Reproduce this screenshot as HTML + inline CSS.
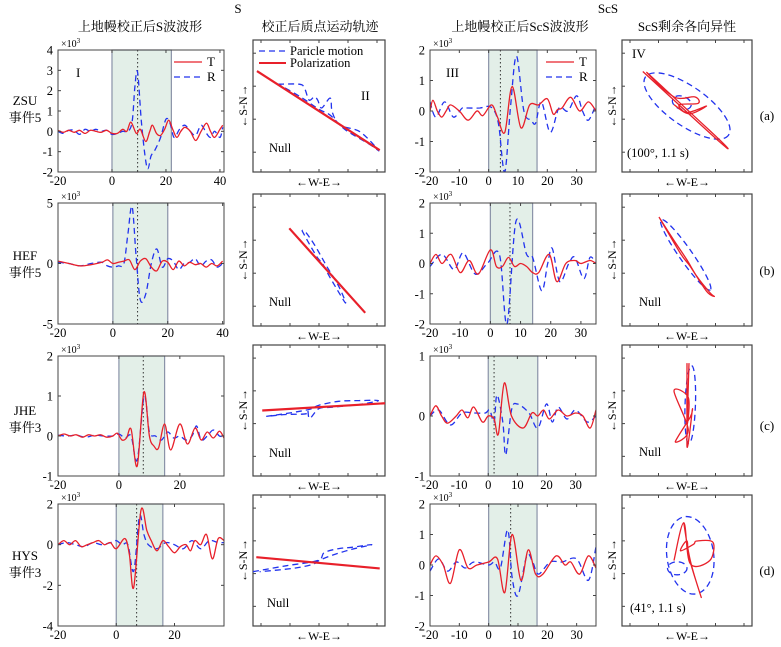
<!DOCTYPE html>
<html><head><meta charset="utf-8">
<style>
html,body{margin:0;padding:0;background:#fff;}
svg{display:block;font-family:"Liberation Serif","Noto Serif CJK SC","Noto Sans CJK SC",serif;}
</style></head>
<body>
<svg id="fig" width="781" height="647" viewBox="0 0 781 647" xmlns="http://www.w3.org/2000/svg">
<text x="238" y="13" font-size="13" text-anchor="middle">S</text>
<text x="608" y="13" font-size="13" text-anchor="middle">ScS</text>
<text x="140" y="31" font-size="13" text-anchor="middle">上地幔校正后S波波形</text>
<text x="320" y="31" font-size="13" text-anchor="middle">校正后质点运动轨迹</text>
<text x="520" y="31" font-size="13" text-anchor="middle">上地幔校正后ScS波波形</text>
<text x="687" y="31" font-size="13" text-anchor="middle">ScS剩余各向异性</text>
</svg>
<script>
// ---- waveform data (time s, amplitude ×10^3) ----
const zsuS_Tt=[-20,-18,-16,-14,-12,-10,-8,-6,-4,-2,0,2,4,5.5,7,9,10.5,12.5,14,15,16.5,18,19.5,21,22.5,24,25.5,27,29,31,33,35,36.5,38,40,41];
const zsuS_T=[0.05,-0.05,0.05,-0.05,0.05,-0.1,0.05,0,-0.05,0.05,-0.1,-0.1,0.1,0,0.45,-0.1,0.1,-0.5,0,0.3,-0.1,-0.2,0.1,0.55,0.1,-0.3,0,0.2,0,-0.45,0,0.4,0,-0.3,0.1,0.3];
const zsuS_Rt=[-20,-18,-16,-14,-12,-10,-8,-6,-4,-2,0,2,4,6,7.5,8.5,9.5,11,13,14.5,16,18,20,21.5,23,25,27,29,31,33,35,36.5,38,40,41];
const zsuS_R=[0,-0.1,0.05,0.05,-0.15,0.1,0,0.1,0,0.05,-0.15,-0.1,0,0,0.5,2.2,2.9,0.3,-1.8,-1.2,-0.9,-0.3,0.6,0.4,-0.3,0.1,0.3,0,-0.2,0.3,-0.1,-0.3,0,-0.3,0.2];
const hefS_Tt=[-20,-16,-12,-8,-4,-2,0,2,4,6,8,10,12,14,16,18,20,22,24,26,28,30,32,34,36,38,40];
const hefS_T=[0.2,0,-0.2,-0.1,0.1,0.3,0,0.1,0.2,0.3,-0.5,0.2,0.4,-0.3,-0.6,0.2,0.1,-0.5,0.2,-0.2,0.1,-0.1,0,-0.3,0,-0.2,0.2];
const hefS_Rt=[-20,-16,-12,-8,-4,-2,0,2,4,5.5,7,8.5,10,12,14,16,18,20,22,24,26,28,30,32,34,36,38,40];
const hefS_R=[0.1,0,-0.2,0,0.1,-0.2,-0.3,-0.2,0,2.5,4.7,0.5,-3,-2.5,0,1.2,-0.3,0.4,0.2,-0.5,0,0.1,0.4,-0.2,0.2,0.3,-0.3,0];
const jheS_Tt=[-20,-18,-16,-14,-12,-10,-8,-6,-4,-2,-0.5,1,2.5,4,6,8.2,10,11.5,13,15,17,20,22.5,25,27,29,31,33,34.5];
const jheS_T=[0,0.05,0,0.03,-0.03,0.03,0,0.03,-0.03,0,0.07,-0.1,-0.05,0.17,-0.75,1.1,0,-0.25,-0.3,0.3,-0.35,0.3,-0.2,0.2,-0.1,0.1,-0.05,0.12,-0.05];
const jheS_Rt=[-20,-17,-14,-11,-8,-5,-2,0,2,4,6,8.3,10,12,14,16,18,20,22,24,25.5,27,29,31,33,34.5];
const jheS_R=[0.02,0,0.02,-0.03,0.02,0,0,0.05,-0.05,0,-0.6,1.0,0.1,0,-0.1,0.1,-0.05,0,-0.1,0,0.25,-0.1,0,0.15,0,0];
const hysS_Tt=[-20,-18,-16,-14,-12,-10,-8,-6,-4,-2,0,3,4.5,6,8.5,10.5,12,14,16,18,20,22,24,25.5,27,29,31,33,35,37];
const hysS_T=[0,0.2,0,0.2,-0.1,0,0.1,0.2,0,0.1,-0.2,0.3,-0.5,-2.1,1.7,0.7,0.2,-0.3,0.2,-0.1,-0.4,-0.1,0,-0.3,0.2,0,0.5,-0.7,0.3,0.2];
const hysS_Rt=[-20,-17,-14,-11,-8,-5,-2,0,2,4,6,8,9.5,11,14,17,20,23,26,29,32,35,37];
const hysS_R=[0,0.1,0,-0.1,0.1,0,0.1,0.2,0,0,-1.3,1.4,0.5,0,-0.2,0.1,0,-0.2,0.2,-0.2,0.2,0.1,0.1];
const zsuC_Tt=[-20,-19,-17.5,-16,-14.5,-13,-10,-7,-4,-2,1,3,5.5,8,11,14,17,20,22,23.5,25,28,31,34,36.6];
const zsuC_T=[0,0.35,0,-0.2,0,0.2,0,-0.3,0,-0.15,0.2,-0.2,-0.7,0.8,-0.55,0.2,0.2,0.4,-0.1,0.05,0.1,0.45,0,0.3,0];
const zsuC_Rt=[-20,-18,-15,-12,-9,-7,-3,0,2,3.5,5.5,7.5,9.5,12,14.5,16,18,21,24,27,30,32,34,36.6];
const zsuC_R=[0.3,-0.2,0.3,-0.2,0.1,0.1,0.1,0.15,0,-0.5,-2,0.2,1.8,0,-0.3,-0.4,0.3,-0.7,0.1,0,0.5,0,-0.3,0.2];
const hefC_Tt=[-20,-18,-16,-13,-10,-7,-4,0,2,4,6,8,10,12,14,16,19.5,22,25,28,30,33,35];
const hefC_T=[0,0.3,0,0.3,-0.3,0.1,-0.35,0.45,-0.1,-0.1,0.2,-0.1,0,-0.1,-0.3,-0.3,0.3,-0.6,0,0.1,0,0.1,0];
const hefC_Rt=[-20,-16,-12,-9,-5,-1,3,5.5,8.5,12,14,17,19,20.5,23,26,28,31,33,35];
const hefC_R=[-0.1,0.3,-0.2,0.35,-0.35,0,0.3,-2,1.4,0.3,0.2,-0.9,0,0.5,-0.6,0,0.2,-0.5,0.2,0];
const jheC_Tt=[-20,-18,-16,-14,-11,-9,-7,-5,-2,0,2,3.5,5.5,8,12,15,17,19,21,24,27,30,32.5,35,37];
const jheC_T=[0,0.17,0,-0.12,0,0.1,-0.03,0.15,-0.1,0,-0.05,-0.3,0.55,0,-0.2,0.05,0,0.1,-0.05,0.1,0,0.05,0,-0.2,0.1];
const jheC_Rt=[-20,-17,-13,-9,-5,-1,0.5,2,3,5,6,8,10,14,17,20,22,24,27,30,34,37];
const jheC_R=[0,0.1,-0.15,0.05,0.05,0.05,0.1,-0.1,0.35,-0.1,-0.65,0.1,0.2,0.05,-0.2,0.2,-0.1,0.15,-0.05,0.1,-0.1,0];
const hysC_Tt=[-20,-18,-15.5,-13,-10,-7,-4,0,3,5.5,8,11,13.5,16,18.5,23,26,28,31,34,36.6];
const hysC_T=[0,0.3,0,-0.6,0.5,-0.1,0,0.1,0.2,-0.9,1.0,-0.5,0.5,-0.3,-0.3,0.3,0,0.1,-0.3,0.3,-0.1];
const hysC_Rt=[-20,-17,-14,-11,-8,-5,0,2,4,6.5,8,10,13,15,17,21,25,30,34,36.6];
const hysC_R=[-0.2,0.2,-0.2,0.1,-0.1,0.1,0,0.1,-0.1,1.15,-0.4,-1.0,0.3,0.1,-0.3,0.1,0.1,0.2,-0.5,0.6];

// ---- particle motion data (normalized E, N in -1..1) ----
const pm1_E=[-0.62,-0.3,-0.22,-0.15,-0.07,-0.02,0.04,0.17,0.2,0.32,0.62,0.9,0.78,0.4,0.17,0.0,-0.3,-0.62];
const pm1_N=[0.33,0.33,0.27,0.09,0.14,0.09,-0.03,0.12,-0.09,-0.29,-0.39,-0.67,-0.59,-0.36,-0.14,-0.05,0.15,0.33];
const pm1_pol=[-0.94,0.53,0.92,-0.67];
const pm2_E=[-0.26,-0.14,-0.02,0.05,0.17,0.4,0.3,0.12,-0.05,-0.2,-0.26];
const pm2_N=[0.45,0.23,0.03,-0.05,-0.27,-0.65,-0.4,-0.1,0.2,0.42,0.45];
const pm2_pol=[-0.45,0.48,0.7,-0.8];
const pm3_E=[-0.8,-0.4,-0.14,0.0,0.3,0.6,0.9,0.6,0.2,0.0,-0.14,-0.17,-0.2,-0.5,-0.8];
const pm3_N=[-0.09,-0.03,0.02,0.08,0.14,0.15,0.15,0.09,0.05,0.03,-0.12,0.0,-0.05,-0.06,-0.09];
const pm3_pol=[-0.86,0.0,1.0,0.11];
const pm4_E=[-1.0,-0.5,-0.02,0.08,0.3,0.5,0.8,0.5,0.2,0.0,-0.1,-0.4,-0.9];
const pm4_N=[-0.17,-0.08,0.0,0.12,0.18,0.2,0.24,0.17,0.08,0.0,-0.06,-0.12,-0.17];
const pm4_pol=[-0.95,0.05,0.92,-0.12];
// residual anisotropy: red trace points, blue ellipse params [cx,cy,rx,ry,angleDeg]
const ra1_E=[-0.68,0.5,0.48,-0.6,-0.2,0.12,0.17,-0.12,0.0,0.3,0.03,-0.2];
const ra1_N=[0.53,-0.55,-0.5,0.5,0.14,0.14,0.04,0.02,-0.1,0.0,-0.12,0.02];
const ra1_ell=[[0.0,0.0,0.78,0.3,35],[-0.08,0.05,0.15,0.1,20]];
const ra2_E=[-0.43,-0.2,0.0,0.15,0.35,0.42,0.3,0.05,-0.1,-0.43];
const ra2_N=[0.66,0.3,0.0,-0.25,-0.5,-0.56,-0.48,-0.1,0.1,0.66];
const ra2_ell=[[-0.02,0.08,0.66,0.1,55]];
const ra3_E=[0.0,0.0,0.02,-0.2,0.02,-0.18,0.05,0.08,0.0,0.03];
const ra3_N=[0.73,-0.2,0.2,0.3,-0.3,-0.48,-0.1,0.0,-0.55,0.73];
const ra3_ell=[[0.05,0.09,0.08,0.6,2]];
const ra4_E=[-0.05,0.05,0.22,0.03,0.0,-0.1,0.1,0.15,0.4,0.35,0.05,-0.05,-0.2];
const ra4_N=[0.58,0.0,-0.57,0.05,0.3,0.15,0.25,0.3,0.28,0.0,-0.05,0.58,0.0];
const ra4_ell=[[0.05,0.08,0.36,0.6,-8],[-0.15,-0.12,0.15,0.1,0]];

const NS='http://www.w3.org/2000/svg';
const fig=document.getElementById('fig');
function mk(tag,attrs,parent){const e=document.createElementNS(NS,tag);for(const k in attrs)e.setAttribute(k,attrs[k]);(parent||fig).appendChild(e);return e;}
function smooth(pts){let d='M'+pts[0][0].toFixed(1)+','+pts[0][1].toFixed(1);for(let i=0;i<pts.length-1;i++){const p0=pts[Math.max(0,i-1)],p1=pts[i],p2=pts[i+1],p3=pts[Math.min(pts.length-1,i+2)];const c1x=p1[0]+(p2[0]-p0[0])/6,c1y=p1[1]+(p2[1]-p0[1])/6,c2x=p2[0]-(p3[0]-p1[0])/6,c2y=p2[1]-(p3[1]-p1[1])/6;d+=' C'+c1x.toFixed(1)+','+c1y.toFixed(1)+' '+c2x.toFixed(1)+','+c2y.toFixed(1)+' '+p2[0].toFixed(1)+','+p2[1].toFixed(1);}return d;}

function wave(c){
  const g=mk('g',{});
  
  
  const sx=v=>c.x0+(v-c.xd[0])/(c.xd[1]-c.xd[0])*(c.x1-c.x0);
  const sy=v=>c.y1-(v-c.yd[0])/(c.yd[1]-c.yd[0])*(c.y1-c.y0);
  const clipId='clip'+c.name;
  const cp=mk('clipPath',{id:clipId},g);mk('rect',{x:c.x0,y:c.y0,width:c.x1-c.x0,height:c.y1-c.y0},cp);
  const sh=mk('rect',{x:sx(c.shade[0]),y:c.y0,width:sx(c.shade[1])-sx(c.shade[0]),height:c.y1-c.y0,fill:'#e3efe8',stroke:'#8a93a8','stroke-width':1.2},g);
  
  
  const dl=mk('line',{x1:sx(c.dot),x2:sx(c.dot),y1:c.y0,y2:c.y1,stroke:'#333','stroke-dasharray':'1.5,2.5','stroke-width':1},g);
  
  
  const cl=mk('g',{'clip-path':'url(#'+clipId+')'},g);
  const pr=mk('path',{d:smooth(c.Rt.map((t,i)=>[sx(t),sy(c.R[i])])),fill:'none',stroke:'#2233ee','stroke-width':1.3,'stroke-dasharray':'6,4'},cl);
  
  
  const pt=mk('path',{d:smooth(c.Tt.map((t,i)=>[sx(t),sy(c.T[i])])),fill:'none',stroke:'#e8202a','stroke-width':1.3},cl);
  
  
  mk('rect',{x:c.x0,y:c.y0,width:c.x1-c.x0,height:c.y1-c.y0,fill:'none',stroke:'#444','stroke-width':1},g);
  c.xt.forEach(v=>{const x=sx(v);mk('line',{x1:x,x2:x,y1:c.y1,y2:c.y1-3,stroke:'#444'},g);mk('line',{x1:x,x2:x,y1:c.y0,y2:c.y0+3,stroke:'#444'},g);
    const t=mk('text',{x:x,y:c.y1+13,'font-size':12.5,'text-anchor':'middle'},g);t.textContent=v;});
  c.yt.forEach(v=>{const y=sy(v);mk('line',{x1:c.x0,x2:c.x0+3,y1:y,y2:y,stroke:'#444'},g);mk('line',{x1:c.x1,x2:c.x1-3,y1:y,y2:y,stroke:'#444'},g);
    const t=mk('text',{x:c.x0-5,y:y+4.5,'font-size':12.5,'text-anchor':'end'},g);t.textContent=v;});
  const e=mk('text',{x:c.x0+3,y:c.y0-3,'font-size':10},g);e.innerHTML='×10<tspan font-size="7" dy="-4">3</tspan>';
  
  if(c.roman){const r=mk('text',{x:c.x0+c.roman[1],y:c.y0+c.roman[2],'font-size':13},g);r.textContent=c.roman[0];}
  if(c.legend){const lx=c.x1-50,ly=c.y0+12;
    mk('line',{x1:lx,x2:lx+28,y1:ly,y2:ly,stroke:'#e8202a','stroke-width':1.3},g);
    let t=mk('text',{x:lx+33,y:ly+4,'font-size':13},g);t.textContent='T';
    mk('line',{x1:lx,x2:lx+28,y1:ly+15,y2:ly+15,stroke:'#2233ee','stroke-width':1.3,'stroke-dasharray':'6,4'},g);
    t=mk('text',{x:lx+33,y:ly+19,'font-size':13},g);t.textContent='R';}
}

function pm(c){
  const g=mk('g',{});
  
  
  const cx=(c.x0+c.x1)/2,cy=(c.y0+c.y1)/2,h=(c.x1-c.x0)/2;
  const sx=v=>cx+v*h, sy=v=>cy-v*h;
  mk('rect',{x:c.x0,y:c.y0,width:c.x1-c.x0,height:c.y1-c.y0,fill:'#fff',stroke:'#444','stroke-width':1.2},g);
  for(let i=1;i<=4;i++){const y=c.y0+(i-0.6)*(c.y1-c.y0)/4;mk('line',{x1:c.x0,x2:c.x0+3,y1:y,y2:y,stroke:'#444'},g);}
  for(let i=0;i<=4;i++){const x=c.x0+8+i*(c.x1-c.x0-16)/4;mk('line',{x1:x,x2:x,y1:c.y1,y2:c.y1-3,stroke:'#444'},g);mk('line',{x1:x,x2:x,y1:c.y0,y2:c.y0+3,stroke:'#444'},g);}
  if(c.ell)c.ell.forEach(p=>{const el=mk('ellipse',{cx:sx(p[0]),cy:sy(p[1]),rx:p[2]*h,ry:p[3]*h,transform:'rotate('+p[4]+' '+sx(p[0])+' '+sy(p[1])+')',fill:'none',stroke:'#2233ee','stroke-width':1.3,'stroke-dasharray':'6,4'},g);
    });
  if(c.bE){const p=mk('path',{d:smooth(c.bE.map((v,i)=>[sx(v),sy(c.bN[i])])),fill:'none',stroke:'#2233ee','stroke-width':1.3,'stroke-dasharray':'6,4'},g);
    }
  if(c.pol){const l=mk('line',{x1:sx(c.pol[0]),y1:sy(c.pol[1]),x2:sx(c.pol[2]),y2:sy(c.pol[3]),stroke:'#e8202a','stroke-width':2.2},g);
    }
  if(c.rE){const p=mk('path',{d:smooth(c.rE.map((v,i)=>[sx(v),sy(c.rN[i])])),fill:'none',stroke:'#e8202a','stroke-width':1.3},g);
    }
  let t=mk('text',{x:0,y:0,'font-size':12,'text-anchor':'middle',transform:'translate('+(c.x0-6)+','+cy+') rotate(-90)'},g);t.textContent='←S-N→';
  t=mk('text',{x:cx,y:c.y1+14,'font-size':12,'text-anchor':'middle'},g);t.textContent='←W-E→';
  if(c.note){t=mk('text',{x:c.x0+c.note[1],y:c.y0+c.note[2],'font-size':12.5},g);t.textContent=c.note[0];}
  if(c.roman){t=mk('text',{x:c.x0+c.roman[1],y:c.y0+c.roman[2],'font-size':13},g);t.textContent=c.roman[0];}
  if(c.legend){
    mk('line',{x1:c.x0+6,x2:c.x0+33,y1:c.y0+11,y2:c.y0+11,stroke:'#2233ee','stroke-width':1.3,'stroke-dasharray':'6,4'},g);
    t=mk('text',{x:c.x0+37,y:c.y0+15,'font-size':12.5},g);t.textContent='Paricle motion';
    mk('line',{x1:c.x0+6,x2:c.x0+33,y1:c.y0+23,y2:c.y0+23,stroke:'#e8202a','stroke-width':2},g);
    t=mk('text',{x:c.x0+37,y:c.y0+27,'font-size':12.5},g);t.textContent='Polarization';}
}

const rows=[{w0:50,w1:172,p0:40,p1:172},{w0:203,w1:324,p0:194,p1:326},{w0:356,w1:476,p0:345,p1:476},{w0:504,w1:626,p0:495,p1:626}];
wave({name:'zsu-s-waveform',x0:58,x1:224,y0:rows[0].w0,y1:rows[0].w1,xd:[-20,41.5],yd:[-2,4],xt:[-20,0,20,40],yt:[-2,-1,0,1,2,3,4],shade:[0,22],dot:9.5,Tt:zsuS_Tt,T:zsuS_T,Rt:zsuS_Rt,R:zsuS_R,roman:['I',18,27],legend:true});
wave({name:'hef-s-waveform',x0:58,x1:224,y0:rows[1].w0,y1:rows[1].w1,xd:[-20,40.5],yd:[-5,5],xt:[-20,0,20,40],yt:[-5,0,5],shade:[0,20],dot:9,Tt:hefS_Tt,T:hefS_T,Rt:hefS_Rt,R:hefS_R});
wave({name:'jhe-s-waveform',x0:58,x1:224,y0:rows[2].w0,y1:rows[2].w1,xd:[-20,34.5],yd:[-1,2],xt:[-20,0,20],yt:[-1,0,1,2],shade:[0,15],dot:8,Tt:jheS_Tt,T:jheS_T,Rt:jheS_Rt,R:jheS_R});
wave({name:'hys-s-waveform',x0:58,x1:224,y0:rows[3].w0,y1:rows[3].w1,xd:[-20,37],yd:[-4,2],xt:[-20,0,20],yt:[-4,-2,0,2],shade:[0,16],dot:7,Tt:hysS_Tt,T:hysS_T,Rt:hysS_Rt,R:hysS_R});
wave({name:'zsu-scs-waveform',x0:430,x1:596,y0:rows[0].w0,y1:rows[0].w1,xd:[-20,36.6],yd:[-2,2],xt:[-20,-10,0,10,20,30],yt:[-2,-1,0,1,2],shade:[0,16.5],dot:4,Tt:zsuC_Tt,T:zsuC_T,Rt:zsuC_Rt,R:zsuC_R,roman:['III',16,27],legend:true});
wave({name:'hef-scs-waveform',x0:430,x1:596,y0:rows[1].w0,y1:rows[1].w1,xd:[-20,35],yd:[-2,2],xt:[-20,-10,0,10,20,30],yt:[-2,-1,0,1,2],shade:[0,14],dot:6.5,Tt:hefC_Tt,T:hefC_T,Rt:hefC_Rt,R:hefC_R});
wave({name:'jhe-scs-waveform',x0:430,x1:596,y0:rows[2].w0,y1:rows[2].w1,xd:[-20,37],yd:[-1,1],xt:[-20,-10,0,10,20,30],yt:[-1,0,1],shade:[0,17],dot:2,Tt:jheC_Tt,T:jheC_T,Rt:jheC_Rt,R:jheC_R});
wave({name:'hys-scs-waveform',x0:430,x1:596,y0:rows[3].w0,y1:rows[3].w1,xd:[-20,36.6],yd:[-2,2],xt:[-20,-10,0,10,20,30],yt:[-2,-1,0,1,2],shade:[0,16.5],dot:7.5,Tt:hysC_Tt,T:hysC_T,Rt:hysC_Rt,R:hysC_R});

pm({name:'zsu-particle-motion',x0:253,x1:385,y0:rows[0].p0,y1:rows[0].p1,bE:pm1_E,bN:pm1_N,pol:pm1_pol,note:['Null',16,112],roman:['II',108,60],legend:true});
pm({name:'hef-particle-motion',x0:253,x1:385,y0:rows[1].p0,y1:rows[1].p1,bE:pm2_E,bN:pm2_N,pol:pm2_pol,note:['Null',16,112]});
pm({name:'jhe-particle-motion',x0:253,x1:385,y0:rows[2].p0,y1:rows[2].p1,bE:pm3_E,bN:pm3_N,pol:pm3_pol,note:['Null',16,112]});
pm({name:'hys-particle-motion',x0:253,x1:385,y0:rows[3].p0,y1:rows[3].p1,bE:pm4_E,bN:pm4_N,pol:pm4_pol,note:['Null',14,112]});
pm({name:'zsu-residual-anisotropy',x0:622,x1:752,y0:rows[0].p0,y1:rows[0].p1,ell:ra1_ell,rE:ra1_E,rN:ra1_N,note:['(100°, 1.1 s)',5,117],roman:['IV',10,18]});
pm({name:'hef-residual-anisotropy',x0:622,x1:752,y0:rows[1].p0,y1:rows[1].p1,ell:ra2_ell,rE:ra2_E,rN:ra2_N,note:['Null',17,112]});
pm({name:'jhe-residual-anisotropy',x0:622,x1:752,y0:rows[2].p0,y1:rows[2].p1,ell:ra3_ell,rE:ra3_E,rN:ra3_N,note:['Null',17,111]});
pm({name:'hys-residual-anisotropy',x0:622,x1:752,y0:rows[3].p0,y1:rows[3].p1,ell:ra4_ell,rE:ra4_E,rN:ra4_N,note:['(41°, 1.1 s)',8,117]});

const stations=['ZSU','HEF','JHE','HYS'];
const events=['事件5','事件5','事件3','事件3'];
const stationY=[105,260,415,560];
const tags=['(a)','(b)','(c)','(d)'];
stations.forEach((s,i)=>{
  let t=mk('text',{x:25,y:stationY[i],'font-size':13,'text-anchor':'middle'});t.textContent=s;
  
  
  t=mk('text',{x:25,y:stationY[i]+17,'font-size':13,'text-anchor':'middle'});t.textContent=events[i];
  
  
  t=mk('text',{x:767,y:stationY[i]+15,'font-size':13,'text-anchor':'middle'});t.textContent=tags[i];
  
  
});
</script>
</body></html>
